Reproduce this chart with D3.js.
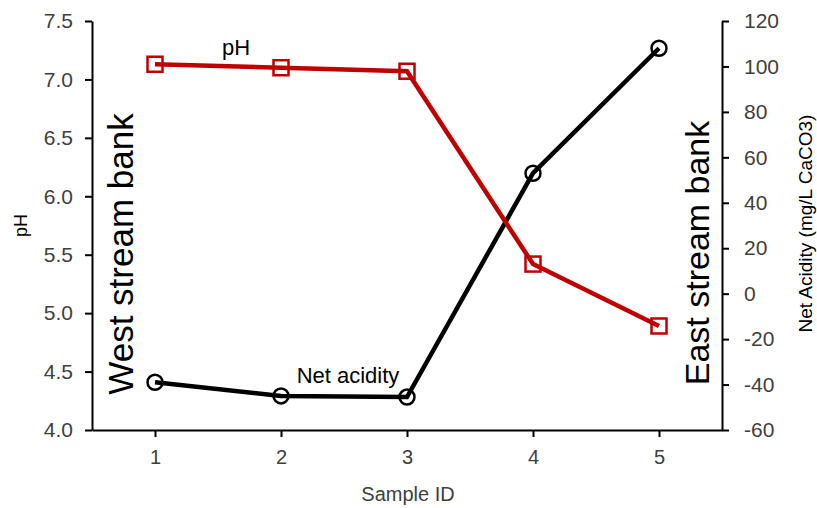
<!DOCTYPE html>
<html>
<head>
<meta charset="utf-8">
<script src="https://cdn.jsdelivr.net/npm/d3@7"></script>
<style>
  body { margin: 0; background: #fff; }
  text { font-family: "Liberation Sans", Arial, sans-serif; }
  .axis path, .axis line { stroke: #000; stroke-width: 2; }
  .axis text { fill: #404040; font-size: 21px; }
</style>
</head>
<body>
<div id="chart"></div>
<script>
// chart data
var samples = [1, 2, 3, 4, 5];
var phValues = [7.13, 7.10, 7.07, 5.42, 4.89];
var acidityValues = [-39, -45, -45.5, 53, 108];
var phTicks = [4.0, 4.5, 5.0, 5.5, 6.0, 6.5, 7.0, 7.5];
var acidityTicks = [-60, -40, -20, 0, 20, 40, 60, 80, 100, 120];

var width = 817, height = 508;
var margin = {top: 21, right: 95, bottom: 78, left: 92};
var innerW = width - margin.left - margin.right,
    innerH = height - margin.top - margin.bottom;

var svg = d3.select("#chart")
  .append("svg")
    .attr("width", width)
    .attr("height", height);

var g = svg.append("g")
  .attr("transform", "translate(" + margin.left + "," + margin.top + ")");

// scales
var x = d3.scalePoint().domain(samples).range([0, innerW]).padding(0.5);
var yPh = d3.scaleLinear().domain([4, 7.5]).range([innerH, 0]);
var yAc = d3.scaleLinear().domain([-60, 120]).range([innerH, 0]);

// axes
g.append("g")
  .attr("class", "axis")
  .attr("transform", "translate(0," + innerH + ")")
  .call(d3.axisBottom(x).tickSize(7).tickSizeOuter(0).tickPadding(13))
  .selectAll("text").style("font-size", "20px");

g.append("g")
  .attr("class", "axis")
  .call(d3.axisLeft(yPh).tickValues(phTicks).tickFormat(d3.format(".1f")).tickSize(7).tickSizeOuter(0).tickPadding(12));

g.append("g")
  .attr("class", "axis")
  .attr("transform", "translate(" + innerW + ",0)")
  .call(d3.axisRight(yAc).tickValues(acidityTicks)
    .tickFormat(function(d) { return String(d); })
    .tickSize(7).tickSizeOuter(0).tickPadding(15));

// axis titles
svg.append("text")
  .attr("transform", "translate(27," + (margin.top + innerH / 2) + ") rotate(-90)")
  .attr("text-anchor", "middle")
  .style("font-size", "18px")
  .text("pH");

svg.append("text")
  .attr("transform", "translate(812," + (margin.top + innerH / 2 - 2) + ") rotate(-90)")
  .attr("text-anchor", "middle")
  .style("font-size", "19px")
  .text("Net Acidity (mg/L CaCO3)");

svg.append("text")
  .attr("x", 408)
  .attr("y", 501)
  .attr("text-anchor", "middle")
  .style("font-size", "20px")
  .attr("fill", "#404040")
  .text("Sample ID");

// bank labels
svg.append("text")
  .attr("transform", "translate(133,254) rotate(-90)")
  .attr("text-anchor", "middle")
  .style("font-size", "35px")
  .text("West stream bank");

svg.append("text")
  .attr("transform", "translate(709,253) rotate(-90)")
  .attr("text-anchor", "middle")
  .style("font-size", "34px")
  .text("East stream bank");

// lines
var phLine = d3.line()
  .x(function(d, i) { return x(samples[i]); })
  .y(function(d) { return yPh(d); });

var acLine = d3.line()
  .x(function(d, i) { return x(samples[i]); })
  .y(function(d) { return yAc(d); });

g.append("path")
  .datum(acidityValues)
  .attr("fill", "none")
  .attr("stroke", "#000")
  .attr("stroke-width", 4.5)
  .attr("d", acLine);

g.append("path")
  .datum(phValues)
  .attr("fill", "none")
  .attr("stroke", "#C00000")
  .attr("stroke-width", 4.5)
  .attr("d", phLine);

// markers
g.selectAll(".ac-pt")
  .data(acidityValues)
  .enter().append("circle")
    .attr("cx", function(d, i) { return x(samples[i]); })
    .attr("cy", function(d) { return yAc(d); })
    .attr("r", 7.5)
    .attr("fill", "none")
    .attr("stroke", "#000")
    .attr("stroke-width", 2.5);

g.selectAll(".ph-pt")
  .data(phValues)
  .enter().append("rect")
    .attr("x", function(d, i) { return x(samples[i]) - 7.5; })
    .attr("y", function(d) { return yPh(d) - 7.5; })
    .attr("width", 15)
    .attr("height", 15)
    .attr("fill", "none")
    .attr("stroke", "#C00000")
    .attr("stroke-width", 2.5);

// series labels
svg.append("text")
  .attr("x", 236)
  .attr("y", 55)
  .attr("text-anchor", "middle")
  .style("font-size", "22px")
  .text("pH");

svg.append("text")
  .attr("x", 348)
  .attr("y", 383)
  .attr("text-anchor", "middle")
  .style("font-size", "22px")
  .text("Net acidity");
</script>
</body>
</html>
